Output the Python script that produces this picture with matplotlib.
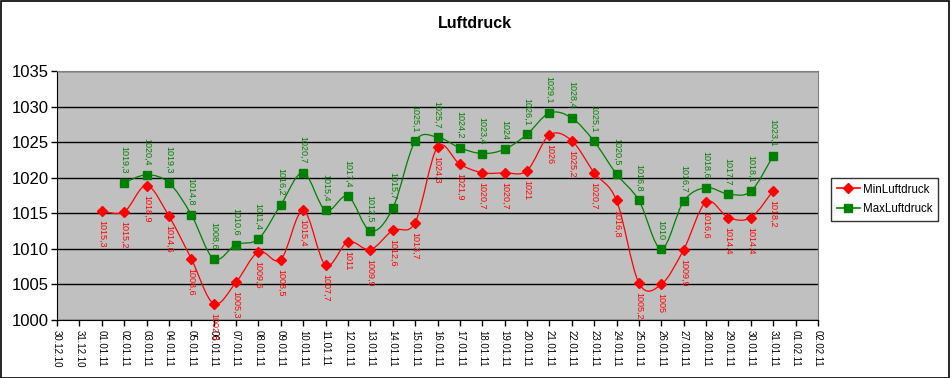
import numpy as np
import matplotlib.pyplot as plt
from matplotlib.path import Path
from matplotlib.patches import PathPatch, Rectangle
from matplotlib.lines import Line2D

# categories (daily dates)
dates = ["30.12.10", "31.12.10"] + [f"{d:02d}.01.11" for d in range(1, 32)] + ["01.02.11", "02.02.11"]

# values per day 01.01.11 .. 31.01.11 (None = no value)
min_luftdruck = [1015.3, 1015.2, 1018.9, 1014.6, 1008.6, 1002.3, 1005.3, 1009.6, 1008.5, 1015.4,
                 1007.7, 1011.0, 1009.9, 1012.6, 1013.7, 1024.3, 1021.9, 1020.7, 1020.7, 1021.0,
                 1026.0, 1025.2, 1020.7, 1016.8, 1005.2, 1005.0, 1009.9, 1016.6, 1014.4, 1014.4,
                 1018.2]
max_luftdruck = [None, 1019.3, 1020.4, 1019.3, 1014.8, 1008.6, 1010.6, 1011.4, 1016.2, 1020.7,
                 1015.4, 1017.4, 1012.5, 1015.7, 1025.1, 1025.7, 1024.2, 1023.4, 1024.0, 1026.1,
                 1029.1, 1028.4, 1025.1, 1020.5, 1016.8, 1010.0, 1016.7, 1018.6, 1017.7, 1018.1,
                 1023.1]
first_idx = 2  # 01.01.11 is the third category

plt.rcParams['font.family'] = ['Liberation Sans', 'DejaVu Sans']

fig = plt.figure(figsize=(9.51, 3.78), dpi=100)
fig.patches.append(Rectangle((0.001, 0.001), 0.997, 0.996, transform=fig.transFigure,
                             fill=False, edgecolor='black', linewidth=1.2))
ax = fig.add_axes([57 / 951, 1 - 320 / 378, (818 - 57) / 951, (320 - 71) / 378])
ax.set_facecolor('#c0c0c0')


def smooth_path(xs, ys):
    # Bezier path through the points (Excel-style smoothed line)
    pts = np.column_stack([xs, ys])
    verts = [pts[0]]
    codes = [Path.MOVETO]
    n = len(pts)
    for i in range(n - 1):
        p0 = pts[i - 1] if i > 0 else pts[i]
        p1 = pts[i]
        p2 = pts[i + 1]
        p3 = pts[i + 2] if i + 2 < n else pts[i + 1]
        c1 = p1 + (p2 - p0) / 6
        c2 = p2 - (p3 - p1) / 6
        verts += [c1, c2, p2]
        codes += [Path.CURVE4] * 3
    return Path(verts, codes)


series = [
    ("MinLuftdruck", min_luftdruck, '#ff0000', 'D', 5, 'below'),
    ("MaxLuftdruck", max_luftdruck, '#008000', 's', 5.5, 'above'),
]
handles = []
for name, vals, color, marker, ms, pos in series:
    xs = [first_idx + i for i, v in enumerate(vals) if v is not None]
    ys = [v for v in vals if v is not None]
    ax.add_patch(PathPatch(smooth_path(xs, ys), facecolor='none', edgecolor=color,
                           linewidth=0.9, zorder=3))
    ax.plot(xs, ys, linestyle='none', marker=marker, markersize=ms, color=color, zorder=4)
    for x, y in zip(xs, ys):
        txt = f"{y:g}".replace('.', ',')
        if pos == 'below':
            ax.annotate(txt, (x, y), xytext=(0, -6.5), textcoords='offset points',
                        rotation=-90, ha='center', va='top', fontsize=6.5, color=color, zorder=5)
        else:
            ax.annotate(txt, (x, y), xytext=(0, 6.5), textcoords='offset points',
                        rotation=-90, ha='center', va='bottom', fontsize=6.5, color=color, zorder=5)
    handles.append(Line2D([], [], color=color, marker=marker, markersize=ms, linewidth=1.2, label=name))

ax.set_xlim(0, len(dates) - 1)
ax.set_ylim(1000, 1035)
ax.set_yticks(np.arange(1000, 1036, 5))
ax.set_xticks(range(len(dates)))
ax.set_xticklabels(dates, rotation=-90, fontsize=7)
ax.tick_params(axis='y', labelsize=12, length=4, width=1, direction='out', pad=2)
ax.tick_params(axis='x', length=4, width=1, direction='out', pad=3)
ax.grid(axis='y', color='black', linewidth=1)
ax.set_axisbelow(True)
for side in ['top', 'right']:
    ax.spines[side].set_color('#808080')
for side in ['left', 'bottom']:
    ax.spines[side].set_color('black')

fig.text(475 / 951, 1 - 24 / 378, "Luftdruck", ha='center', va='center',
         fontsize=11.5, fontweight='bold')

leg = fig.legend(handles=handles, loc='upper left', bbox_to_anchor=(825 / 951, 1 - 172 / 378),
                 fontsize=8.3, frameon=True, fancybox=False, edgecolor='black',
                 handlelength=2.0, borderpad=0.5, labelspacing=0.65, handletextpad=0.3)
leg.get_frame().set_linewidth(1)

fig.savefig("out.png", dpi=100)
